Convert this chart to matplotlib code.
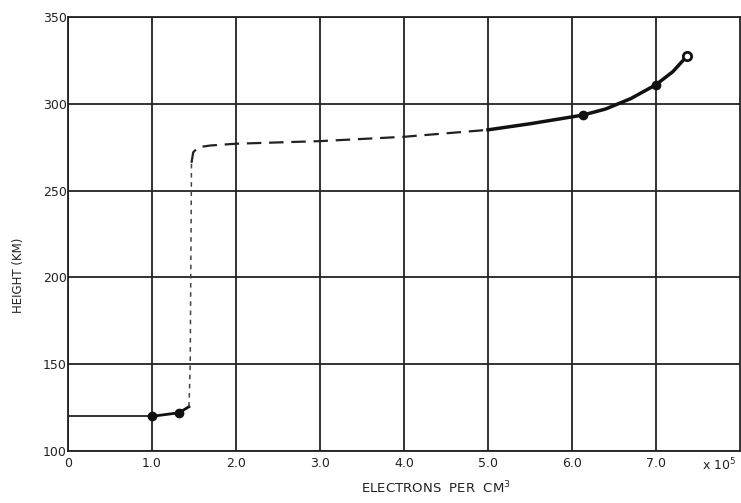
import numpy as np
import matplotlib
matplotlib.use("Agg")
import matplotlib.pyplot as plt

# electron density (x 10^5 per cm^3) versus height (km)
low_x = [0.0, 1.0, 1.32, 1.44]
low_y = [120, 120, 122, 125.5]

rise_x = [1.44, 1.455, 1.47]
rise_y = [125.5, 150, 266]

dash_x = [1.47, 1.49, 1.55, 1.7, 2.0, 3.0, 4.0, 5.0]
dash_y = [266, 272, 275, 276, 277, 278.5, 281, 285]

high_x = [5.0, 5.5, 6.13, 6.4, 6.7, 7.0, 7.2, 7.37]
high_y = [285, 288.5, 293.5, 297, 303, 311, 318.5, 327.5]

dot_x = [1.0, 1.32, 6.13, 7.0]
dot_y = [120, 122, 293.5, 311]
open_x = [7.37]
open_y = [327.5]

x_ticks = [0, 1, 2, 3, 4, 5, 6, 7]
x_labels = ["0", "1.0", "2.0", "3.0", "4.0", "5.0", "6.0", "7.0"]
y_ticks = [100, 150, 200, 250, 300, 350]

fig = plt.figure(figsize=(7.41, 5.03), dpi=100)
ax = fig.add_axes([68 / 741, 1 - 451 / 503, 672 / 741, 434 / 503])

ax.set_xlim(0, 8)
ax.set_ylim(100, 350)
ax.set_xticks(x_ticks)
ax.set_xticklabels(x_labels)
ax.set_yticks(y_ticks)
ax.grid(True, color="#222222", linewidth=1.3)
ax.set_axisbelow(True)
for s in ax.spines.values():
    s.set_color("#222222")
    s.set_linewidth(1.3)
ax.tick_params(length=0, pad=4, labelsize=9, colors="#222222")
ax.tick_params(axis="y", pad=1)

# the curve
ax.plot(low_x[:2], low_y[:2], color="#222222", lw=1.3)
ax.plot(low_x[1:], low_y[1:], color="#111111", lw=2)
ax.plot(rise_x, rise_y, color="#444444", lw=1.1, ls=(0, (3, 3)))
ax.plot(dash_x, dash_y, color="#222222", lw=1.6, ls=(0, (6.5, 3.5)))
ax.plot(high_x, high_y, color="#111111", lw=2.5)
ax.plot(dot_x, dot_y, "o", color="#111111", ms=6)
ax.plot(open_x, open_y, "o", mfc="white", mec="#111111", mew=2, ms=6)

ax.text(7.55, 96.5, "x 10$^5$", fontsize=9, color="#222222",
        va="top", ha="left", clip_on=False)
fig.text(436 / 741, 1 - 488 / 503, "ELECTRONS  PER  CM$^3$", fontsize=9.5,
         ha="center", va="center", color="#222222")
fig.text(19 / 741, 1 - 275 / 503, "HEIGHT (KM)", fontsize=8.5, rotation=90,
         ha="center", va="center", color="#222222")

fig.savefig("out.png", dpi=100, facecolor="white")
